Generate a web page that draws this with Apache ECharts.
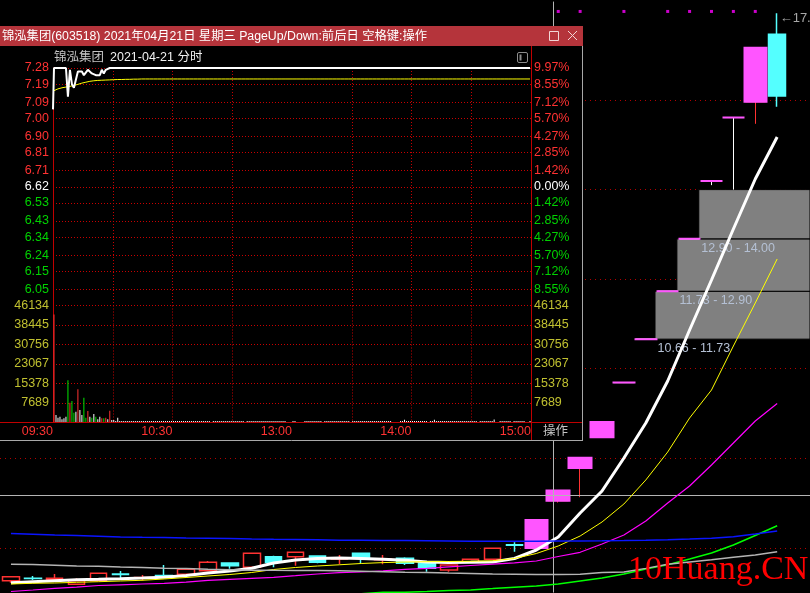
<!DOCTYPE html>
<html><head><meta charset="utf-8">
<script src="https://cdn.jsdelivr.net/npm/echarts@6/dist/echarts.min.js"></script>
<style>html,body{margin:0;padding:0;background:#000;}#c{width:810px;height:593px;}</style>
</head><body><div id="c"></div>
<script>
// ================= daily K-line data =================
const dates = ['03-16','03-17','03-18','03-19','03-22','03-23','03-24','03-25','03-26','03-29','03-30','03-31','04-01','04-02','04-06','04-07','04-08','04-09','04-12','04-13','04-14','04-15','04-16','04-19','04-20','04-21','04-22','04-23','04-26','04-27','04-28','04-29','04-30','05-06','05-07','05-10'];
const opens  = [5.265,5.322,5.296,5.184,5.265,5.415,5.325,5.380,5.408,5.488,5.660,5.564,5.801,5.800,5.816,5.750,5.877,5.735,5.765,5.653,5.504,5.676,5.743,6.070,5.995,7.05,7.78,8.47,9.69,10.66,11.73,12.90,14.19,15.61,15.96,17.47];
const closes = [5.354,5.316,5.318,5.265,5.430,5.405,5.335,5.372,5.519,5.676,5.600,5.877,5.676,5.900,5.676,5.765,5.772,5.750,5.653,5.542,5.615,5.743,5.988,6.055,6.62,7.28,8.01,8.81,9.69,10.66,11.73,12.90,14.19,15.61,17.17,16.09];
const lows   = [5.220,5.280,5.290,5.180,5.260,5.280,5.265,5.354,5.400,5.488,5.533,5.564,5.564,5.600,5.653,5.630,5.653,5.630,5.615,5.466,5.466,5.670,5.743,5.913,5.995,7.01,7.13,8.47,9.69,10.66,11.73,12.90,14.10,14.00,15.47,15.85];
const highs  = [5.360,5.370,5.414,5.318,5.430,5.480,5.390,5.615,5.525,5.705,5.660,5.877,5.823,5.900,5.816,5.840,5.877,5.840,5.787,5.653,5.615,5.750,5.990,6.122,6.62,7.28,8.01,8.81,9.69,10.66,11.73,12.90,14.19,15.61,17.17,17.94];
const ma5   = [5.218,5.242,5.265,5.285,5.296,5.309,5.325,5.343,5.381,5.437,5.481,5.542,5.660,5.727,5.761,5.772,5.761,5.743,5.720,5.682,5.671,5.676,5.682,5.761,5.950,6.241,6.777,7.268,8.005,8.787,9.725,10.864,11.981,13.120,14.237,15.175];
const ma10  = [5.191,5.207,5.213,5.229,5.242,5.258,5.274,5.303,5.336,5.370,5.403,5.448,5.515,5.560,5.593,5.620,5.649,5.669,5.682,5.689,5.694,5.700,5.709,5.761,5.872,6.040,6.263,6.576,6.978,7.514,8.139,8.899,9.524,10.507,11.468,12.451];
const ma20  = [5.023,5.057,5.095,5.120,5.157,5.173,5.191,5.207,5.231,5.274,5.296,5.318,5.341,5.376,5.414,5.443,5.459,5.486,5.519,5.542,5.573,5.604,5.633,5.665,5.705,5.805,5.899,6.084,6.285,6.598,7.000,7.380,7.849,8.340,8.832,9.223];
const ma60  = [null,null,null,null,null,null,null,null,null,null,null,null,null,null,null,4.950,4.975,5.006,5.006,5.023,5.046,5.057,5.088,5.120,5.146,5.191,5.258,5.325,5.414,5.526,5.620,5.749,5.883,6.062,6.274,6.493];
const ma120 = [5.630,5.625,5.610,5.595,5.585,5.570,5.560,5.545,5.535,5.520,5.510,5.500,5.497,5.495,5.490,5.485,5.475,5.465,5.455,5.448,5.435,5.425,5.415,5.410,5.405,5.405,5.410,5.450,5.460,5.540,5.630,5.680,5.730,5.790,5.840,5.910];
const ma250 = [6.319,6.303,6.285,6.274,6.259,6.241,6.234,6.230,6.218,6.212,6.207,6.196,6.189,6.185,6.178,6.169,6.167,6.165,6.160,6.156,6.151,6.147,6.145,6.145,6.145,6.151,6.154,6.158,6.163,6.170,6.180,6.195,6.215,6.248,6.308,6.375];
const signals = [0,0,0,0,0,0,0,0,0,0,0,0,0,0,0,0,0,0,0,0,0,0,0,0,0,1,1,0,1,0,1,1,1,1,1,0];
// open price gaps: [index of the day before the gap, gap low, gap high]
const gapAfter = [29, 30, 31];
const gapLow   = [10.66, 11.73, 12.90];
const gapHigh  = [11.73, 12.90, 14.00];
const mainGuideLevels = [6,8,10,12,14,16];
const crossIndex = 24.78, crossPrice = 7.17;

// ================= intraday (2021-04-21) data =================
const prevClose = 6.62;
const openPrice = 7.05;
const priceTicks = [7.28,7.19,7.09,7.00,6.90,6.81,6.71,6.62,6.53,6.43,6.34,6.24,6.15,6.05];
const pctTicks   = ['9.97%','8.55%','7.12%','5.70%','4.27%','2.85%','1.42%','0.00%','1.42%','2.85%','4.27%','5.70%','7.12%','8.55%'];
const volumeTicks = [46134,38445,30756,23067,15378,7689];
const timeTicks  = [0,60,120,180,240];
const timeLabels = ['09:30','10:30','13:00','14:00','15:00'];
const timeGrid   = [30,60,90,150,180,210];
const minuteClose = [
7.28,7.28,7.28,7.28,7.28,7.28,7.28,7.12,7.27,7.19,7.17,7.17,7.26,7.26,7.26,7.24,7.23,7.27,7.27,7.25,7.25,7.24,7.24,7.24,7.27,7.25,7.27,7.27,7.28,7.28,
7.28,7.28,7.28,7.28,7.28,7.28,7.28,7.28,7.28,7.28,7.28,7.28,7.28,7.28,7.28,7.28,7.28,7.28,7.28,7.28,7.28,7.28,7.28,7.28,7.28,7.28,7.28,7.28,7.28,7.28,
7.28,7.28,7.28,7.28,7.28,7.28,7.28,7.28,7.28,7.28,7.28,7.28,7.28,7.28,7.28,7.28,7.28,7.28,7.28,7.28,7.28,7.28,7.28,7.28,7.28,7.28,7.28,7.28,7.28,7.28,
7.28,7.28,7.28,7.28,7.28,7.28,7.28,7.28,7.28,7.28,7.28,7.28,7.28,7.28,7.28,7.28,7.28,7.28,7.28,7.28,7.28,7.28,7.28,7.28,7.28,7.28,7.28,7.28,7.28,7.28,
7.28,7.28,7.28,7.28,7.28,7.28,7.28,7.28,7.28,7.28,7.28,7.28,7.28,7.28,7.28,7.28,7.28,7.28,7.28,7.28,7.28,7.28,7.28,7.28,7.28,7.28,7.28,7.28,7.28,7.28,
7.28,7.28,7.28,7.28,7.28,7.28,7.28,7.28,7.28,7.28,7.28,7.28,7.28,7.28,7.28,7.28,7.28,7.28,7.28,7.28,7.28,7.28,7.28,7.28,7.28,7.28,7.28,7.28,7.28,7.28,
7.28,7.28,7.28,7.28,7.28,7.28,7.28,7.28,7.28,7.28,7.28,7.28,7.28,7.28,7.28,7.28,7.28,7.28,7.28,7.28,7.28,7.28,7.28,7.28,7.28,7.28,7.28,7.28,7.28,7.28,
7.28,7.28,7.28,7.28,7.28,7.28,7.28,7.28,7.28,7.28,7.28,7.28,7.28,7.28,7.28,7.28,7.28,7.28,7.28,7.28,7.28,7.28,7.28,7.28,7.28,7.28,7.28,7.28,7.28,7.28];
const minuteAvg = [
7.154,7.159,7.164,7.167,7.170,7.172,7.174,7.176,7.178,7.181,7.183,7.185,7.189,7.192,7.196,7.199,7.201,7.204,7.206,7.207,7.209,7.210,7.211,7.212,7.212,7.213,7.213,7.214,7.214,7.215,
7.215,7.215,7.216,7.216,7.216,7.216,7.217,7.217,7.217,7.217,7.218,7.218,7.218,7.219,7.219,7.219,7.219,7.219,7.219,7.219,7.219,7.219,7.219,7.219,7.219,7.219,7.219,7.219,7.219,7.219,
7.219,7.219,7.219,7.219,7.219,7.219,7.219,7.219,7.219,7.219,7.219,7.219,7.219,7.219,7.219,7.219,7.219,7.219,7.219,7.219,7.219,7.219,7.219,7.219,7.219,7.219,7.219,7.219,7.219,7.219,
7.219,7.219,7.219,7.219,7.219,7.219,7.219,7.219,7.219,7.219,7.219,7.219,7.219,7.219,7.219,7.219,7.219,7.219,7.219,7.219,7.219,7.219,7.219,7.219,7.219,7.219,7.219,7.219,7.219,7.219,
7.219,7.219,7.219,7.219,7.219,7.219,7.219,7.219,7.219,7.219,7.219,7.219,7.219,7.219,7.219,7.219,7.219,7.219,7.219,7.219,7.219,7.219,7.219,7.219,7.219,7.219,7.219,7.219,7.219,7.219,
7.219,7.219,7.219,7.219,7.219,7.219,7.219,7.219,7.219,7.219,7.219,7.219,7.219,7.219,7.219,7.219,7.219,7.219,7.219,7.219,7.219,7.219,7.219,7.219,7.219,7.219,7.219,7.219,7.219,7.219,
7.219,7.219,7.219,7.219,7.219,7.219,7.219,7.219,7.219,7.219,7.219,7.219,7.219,7.219,7.219,7.219,7.219,7.219,7.219,7.219,7.219,7.219,7.219,7.219,7.219,7.219,7.219,7.219,7.219,7.219,
7.219,7.219,7.219,7.219,7.219,7.219,7.219,7.219,7.219,7.219,7.219,7.219,7.219,7.219,7.219,7.219,7.219,7.219,7.219,7.219,7.219,7.219,7.219,7.219,7.219,7.219,7.219,7.219,7.219,7.219];
const minuteVolume = [
42600,2870,1800,2200,1180,1570,2200,16640,7700,8380,
3780,4170,13100,4840,2870,9680,1810,4440,2200,1810,
3260,2200,1180,2200,1570,1570,1810,1180,4560,900,
900,510,1810,500,500,500,500,500,500,500,
500,500,500,500,500,500,500,500,500,500,
500,500,500,500,500,500,500,500,500,500,
500,500,500,500,500,500,500,500,500,500,
500,500,500,500,500,500,500,500,500,0,
500,500,500,500,500,500,500,500,500,500,
500,500,500,500,500,500,0,500,500,500,
500,500,500,500,500,500,500,500,500,500,
500,500,500,500,500,500,500,0,0,0,
500,500,0,0,0,0,500,500,500,500,
500,500,500,500,500,0,500,500,500,500,
500,500,500,500,500,500,500,500,500,0,
500,500,500,500,500,500,500,500,500,500,
500,500,500,500,500,500,500,500,500,500,
0,0,0,0,500,500,1000,500,500,500,
500,500,500,500,500,500,500,500,0,500,
500,1000,500,500,500,500,500,500,500,500,
500,500,500,500,500,500,500,500,500,500,
500,500,500,0,500,500,500,500,500,500,
500,1100,0,0,500,500,500,500,500,500,
0,500,500,500,500,500,500,0,0,500];

// ================= styles =================
const FONT = '"Liberation Sans", "Noto Sans CJK SC", sans-serif';
const RED = '#FF3232', CYAN = '#54FFFF', MAG = '#FF55FF';
const AXRED = '#C00000', DOTRED = '#C80000';
const OLIVE = '#C0C030';

const cats = dates.concat(['']);
const isLimit = closes.map((c, i) => i > 0 && c / closes[i - 1] >= 1.09);
const normalData = dates.map((d, i) => isLimit[i] ? '-' : [opens[i], closes[i], lows[i], highs[i]]);
const wickData = dates.map((d, i) => {
  if (!isLimit[i]) return '-';
  const col = opens[i] === closes[i] ? '#FFFFFF' : RED;
  return {value: [opens[i], closes[i], lows[i], highs[i]],
          itemStyle: {borderColor: col, borderColor0: col, borderColorDoji: col}};
});
const bodyData = dates.map((d, i) => isLimit[i]
  ? [opens[i], closes[i], Math.min(opens[i], closes[i]), Math.max(opens[i], closes[i])] : '-');
const hiIdx = highs.indexOf(Math.max(...highs));
const signalLevel = 17.98;
const signalData = [];
signals.forEach((f, i) => { if (f) signalData.push([i, signalLevel]); });
const halfBar = 0.42;
const gapAreas = gapAfter.map((k, j) => [
  {xAxis: k + halfBar, yAxis: gapLow[j], name: gapLow[j].toFixed(2) + ' - ' + gapHigh[j].toFixed(2)},
  {xAxis: cats.length - 0.5, yAxis: gapHigh[j]}
]);

function maLine(name, data, color, width) {
  return {name, type: 'line', xAxisIndex: 0, yAxisIndex: 0, data, symbol: 'none',
    lineStyle: {color, width}, z: 5, silent: true};
}
function priceColor(v) {
  v = Number(v);
  if (Math.abs(v - prevClose) < 1e-6) return '#FFFFFF';
  return v > prevClose ? RED : '#00D200';
}
function tickIndex(v) { return priceTicks.findIndex(t => Math.abs(t - Number(v)) < 1e-6); }

const priceLineData = [[0, openPrice]].concat(minuteClose.map((v, i) => [i + 0.5, v]));
const avgLineData = minuteAvg.map((v, i) => [i + 0.5, v]);
const volData = minuteVolume.map((v, i) => {
  const prev = i === 0 ? prevClose : minuteClose[i - 1];
  const c = minuteClose[i];
  const col = c > prev ? RED : (c < prev ? '#00E600' : '#FFFFFF');
  return {value: [i + 0.5, v], itemStyle: {color: col}};
});

const labelBase = {fontSize: 12.5, fontFamily: FONT};
const dotted = {show: true, lineStyle: {color: DOTRED, type: [1, 2], width: 1}};

const option = {
  backgroundColor: '#000',
  animation: false,
  grid: [
    {left: 0, right: 0, top: 1.59, bottom: 0.45},
    {left: 53, top: 68, width: 478, height: 237.5},
    {left: 53, top: 305.5, width: 478, height: 116.8}
  ],
  xAxis: [
    {type: 'category', gridIndex: 0, data: cats, boundaryGap: true, show: false},
    {type: 'value', gridIndex: 0, min: -0.5, max: cats.length - 0.5, show: false},
    {type: 'value', gridIndex: 1, min: 0, max: 240, zlevel: 1, z: 2,
      axisLine: {show: false}, axisTick: {show: false, customValues: timeGrid},
      axisLabel: {show: false}, splitLine: dotted},
    {type: 'value', gridIndex: 2, min: 0, max: 240, zlevel: 1, z: 2,
      axisLine: {show: false}, axisTick: {show: false, customValues: timeGrid},
      axisLabel: Object.assign({show: true, customValues: timeTicks, color: RED, align: 'right', margin: 3,
        formatter: v => timeLabels[timeTicks.indexOf(Number(v))]}, labelBase),
      splitLine: dotted}
  ],
  yAxis: [
    {type: 'value', gridIndex: 0, min: 5, max: 18.2, show: false},
    {type: 'value', gridIndex: 1, min: 5.96, max: 7.28, zlevel: 1, z: 3,
      axisLine: {show: true, lineStyle: {color: AXRED}}, axisTick: {show: false, customValues: priceTicks},
      axisLabel: Object.assign({customValues: priceTicks, margin: 4, formatter: v => Number(v).toFixed(2),
        color: v => priceColor(v)}, labelBase),
      splitLine: dotted},
    {type: 'value', gridIndex: 1, min: 5.96, max: 7.28, position: 'right', zlevel: 1, z: 3,
      axisLine: {show: true, lineStyle: {color: AXRED}}, axisTick: {show: false, customValues: priceTicks},
      axisLabel: Object.assign({customValues: priceTicks, margin: 3, formatter: v => pctTicks[tickIndex(v)],
        color: v => priceColor(v)}, labelBase),
      splitLine: {show: false}},
    {type: 'value', gridIndex: 2, min: 0, max: 46134, zlevel: 1, z: 3,
      axisLine: {show: true, lineStyle: {color: AXRED}}, axisTick: {show: false, customValues: volumeTicks},
      axisLabel: Object.assign({customValues: volumeTicks, margin: 4, color: OLIVE,
        formatter: v => String(Math.round(Number(v)))}, labelBase),
      splitLine: dotted},
    {type: 'value', gridIndex: 2, min: 0, max: 46134, position: 'right', zlevel: 1, z: 3,
      axisLine: {show: true, lineStyle: {color: AXRED}}, axisTick: {show: false, customValues: volumeTicks},
      axisLabel: Object.assign({customValues: volumeTicks, margin: 3, color: OLIVE,
        formatter: v => String(Math.round(Number(v)))}, labelBase),
      splitLine: {show: false}}
  ],
  series: [
    // ---------- main chart ----------
    {name: 'guides', type: 'line', xAxisIndex: 1, yAxisIndex: 0, data: [[crossIndex, crossPrice]], symbol: 'none',
      lineStyle: {opacity: 0}, silent: true, z: 1,
      markLine: {silent: true, z: 1, symbol: ['none', 'none'], label: {show: false},
        lineStyle: {color: '#B40000', type: [1, 4], width: 1},
        data: mainGuideLevels.map(v => ({yAxis: v}))}},
    {name: 'gaps', type: 'line', xAxisIndex: 1, yAxisIndex: 0, data: [[crossIndex, crossPrice]], symbol: 'none',
      lineStyle: {opacity: 0}, silent: true, z: 2,
      markArea: {silent: true, z: 2,
        itemStyle: {color: '#808080', borderColor: '#000000', borderWidth: 1},
        label: {show: true, position: [3, '100%'], align: 'left', verticalAlign: 'top', padding: [3, 0, 0, 0],
          color: '#B4C0D4', fontSize: 12.5, fontFamily: FONT, formatter: p => p.name},
        data: gapAreas}},
    {name: 'normal', type: 'candlestick', xAxisIndex: 0, yAxisIndex: 0, data: normalData, barWidth: 17, z: 3,
      silent: true,
      itemStyle: {color: '#000000', color0: CYAN, borderColor: RED, borderColor0: CYAN, borderWidth: 1.5},
      markPoint: {symbol: 'circle', symbolSize: 1, itemStyle: {color: 'rgba(0,0,0,0)'},
        label: {show: true, position: 'right', distance: 2, offset: [0, 5], color: '#A8A8A8',
          fontSize: 13, fontFamily: FONT, formatter: '\u2190' + highs[hiIdx].toFixed(2)},
        data: [{coord: [dates[hiIdx], highs[hiIdx]]}]}},
    {name: 'limitWick', type: 'candlestick', xAxisIndex: 0, yAxisIndex: 0, data: wickData, barWidth: 21, z: 3,
      silent: true,
      itemStyle: {color: 'rgba(0,0,0,0)', color0: 'rgba(0,0,0,0)', borderColor: RED, borderColor0: RED, borderWidth: 1}},
    {name: 'limitBody', type: 'candlestick', xAxisIndex: 0, yAxisIndex: 0, data: bodyData, barWidth: 23, z: 4,
      silent: true,
      itemStyle: {color: MAG, color0: MAG, borderColor: MAG, borderColor0: MAG, borderColorDoji: MAG, borderWidth: 2}},
    maLine('MA5', ma5, '#FFFFFF', 3),
    maLine('MA10', ma10, '#FFFF00', 1),
    maLine('MA20', ma20, '#FF00FF', 1.2),
    maLine('MA60', ma60, '#00FF00', 1.5),
    maLine('MA120', ma120, '#B4B4B4', 1.5),
    maLine('MA250', ma250, '#0A14FF', 1.5),
    {name: 'signal', type: 'scatter', xAxisIndex: 0, yAxisIndex: 0, data: signalData, symbol: 'rect',
      symbolSize: 3, itemStyle: {color: '#FF00FF'}, silent: true, z: 6},
    {name: 'cross', type: 'line', xAxisIndex: 1, yAxisIndex: 0, data: [[crossIndex, crossPrice]], symbol: 'none',
      lineStyle: {opacity: 0}, silent: true, z: 7,
      markLine: {silent: true, symbol: ['none', 'none'], label: {show: false},
        lineStyle: {color: '#B4B4B4', type: 'solid', width: 1},
        data: [{xAxis: crossIndex}, {yAxis: crossPrice}]}},
    // ---------- intraday popup ----------
    {name: 'avg', type: 'line', xAxisIndex: 2, yAxisIndex: 1, data: avgLineData, symbol: 'none',
      lineStyle: {color: '#FFFF00', width: 1}, zlevel: 1, z: 4, silent: true,
      markLine: {silent: true, symbol: ['none', 'none'], label: {show: false},
        lineStyle: {color: AXRED, type: 'solid', width: 1},
        data: [{yAxis: prevClose}, {xAxis: 120}]}},
    {name: 'price', type: 'line', xAxisIndex: 2, yAxisIndex: 1, data: priceLineData, symbol: 'none',
      lineStyle: {color: '#FFFFFF', width: 2}, zlevel: 1, z: 5, silent: true},
    {name: 'volume', type: 'bar', xAxisIndex: 3, yAxisIndex: 3, data: volData, barWidth: 1,
      zlevel: 1, z: 4, silent: true,
      markLine: {silent: true, symbol: ['none', 'none'], label: {show: false},
        lineStyle: {color: AXRED, type: 'solid', width: 1},
        data: [{yAxis: volumeTicks[0]}, {xAxis: 120}]}}
  ],
  graphic: {elements: [
    {type: 'rect', zlevel: 1, z: 0, silent: true, shape: {x: 0, y: 26, width: 583, height: 415}, style: {fill: '#000000'}},
    {type: 'rect', zlevel: 1, z: 1, silent: true, shape: {x: 0, y: 26, width: 583, height: 20}, style: {fill: '#B5343B'}},
    {type: 'text', zlevel: 1, z: 2, silent: true, style: {x: 2, y: 36.5,
      text: '锦泓集团(603518) 2021年04月21日 星期三 PageUp/Down:前后日 空格键:操作',
      fill: '#FFFFFF', font: '12.3px ' + FONT, verticalAlign: 'middle', textVerticalAlign: 'middle'}},
    {type: 'rect', zlevel: 1, z: 2, silent: true, shape: {x: 549.5, y: 31.5, width: 9, height: 9},
      style: {fill: 'none', stroke: '#F2D6D6', lineWidth: 1}},
    {type: 'line', zlevel: 1, z: 2, silent: true, shape: {x1: 568, y1: 31, x2: 577, y2: 40}, style: {stroke: '#F2D6D6', lineWidth: 1}},
    {type: 'line', zlevel: 1, z: 2, silent: true, shape: {x1: 577, y1: 31, x2: 568, y2: 40}, style: {stroke: '#F2D6D6', lineWidth: 1}},
    {type: 'text', zlevel: 1, z: 2, silent: true, style: {x: 54, y: 57.5, text: '锦泓集团', fill: '#C4C4C4',
      font: '12.5px ' + FONT, verticalAlign: 'middle', textVerticalAlign: 'middle'}},
    {type: 'text', zlevel: 1, z: 2, silent: true, style: {x: 110, y: 57.5, text: '2021-04-21 分时', fill: '#F0F0F0',
      font: '12.5px ' + FONT, verticalAlign: 'middle', textVerticalAlign: 'middle'}},
    {type: 'rect', zlevel: 1, z: 2, silent: true, shape: {x: 517.5, y: 52.5, width: 10, height: 10, r: 1.5},
      style: {fill: 'none', stroke: '#8C8C8C', lineWidth: 1}},
    {type: 'rect', zlevel: 1, z: 2, silent: true, shape: {x: 519.5, y: 54.5, width: 2, height: 6},
      style: {fill: '#8C8C8C'}},
    {type: 'line', zlevel: 1, z: 6, silent: true, shape: {x1: 0, y1: 422.5, x2: 582, y2: 422.5}, style: {stroke: AXRED, lineWidth: 1}},
    {type: 'line', zlevel: 1, z: 6, silent: true, shape: {x1: 531.5, y1: 46, x2: 531.5, y2: 440}, style: {stroke: AXRED, lineWidth: 1}},
    {type: 'line', zlevel: 1, z: 6, silent: true, shape: {x1: 582.5, y1: 46, x2: 582.5, y2: 441}, style: {stroke: '#A8A8A8', lineWidth: 1}},
    {type: 'line', zlevel: 1, z: 6, silent: true, shape: {x1: 0, y1: 440.5, x2: 583, y2: 440.5}, style: {stroke: '#A8A8A8', lineWidth: 1}},
    {type: 'text', zlevel: 1, z: 6, silent: true, style: {x: 543, y: 431.5, text: '操作', fill: '#C4C4C4',
      font: '12.5px ' + FONT, verticalAlign: 'middle', textVerticalAlign: 'middle'}},
    {type: 'text', z: 20, silent: true, style: {x: 628, y: 570, text: '10Huang.CN', fill: '#FF0000',
      font: '34px "Liberation Serif", serif', verticalAlign: 'middle', textVerticalAlign: 'middle'}}
  ]}
};
const chart = echarts.init(document.getElementById('c'), null, {renderer: 'canvas', width: 810, height: 593});
chart.setOption(option);
</script>
</body></html>
